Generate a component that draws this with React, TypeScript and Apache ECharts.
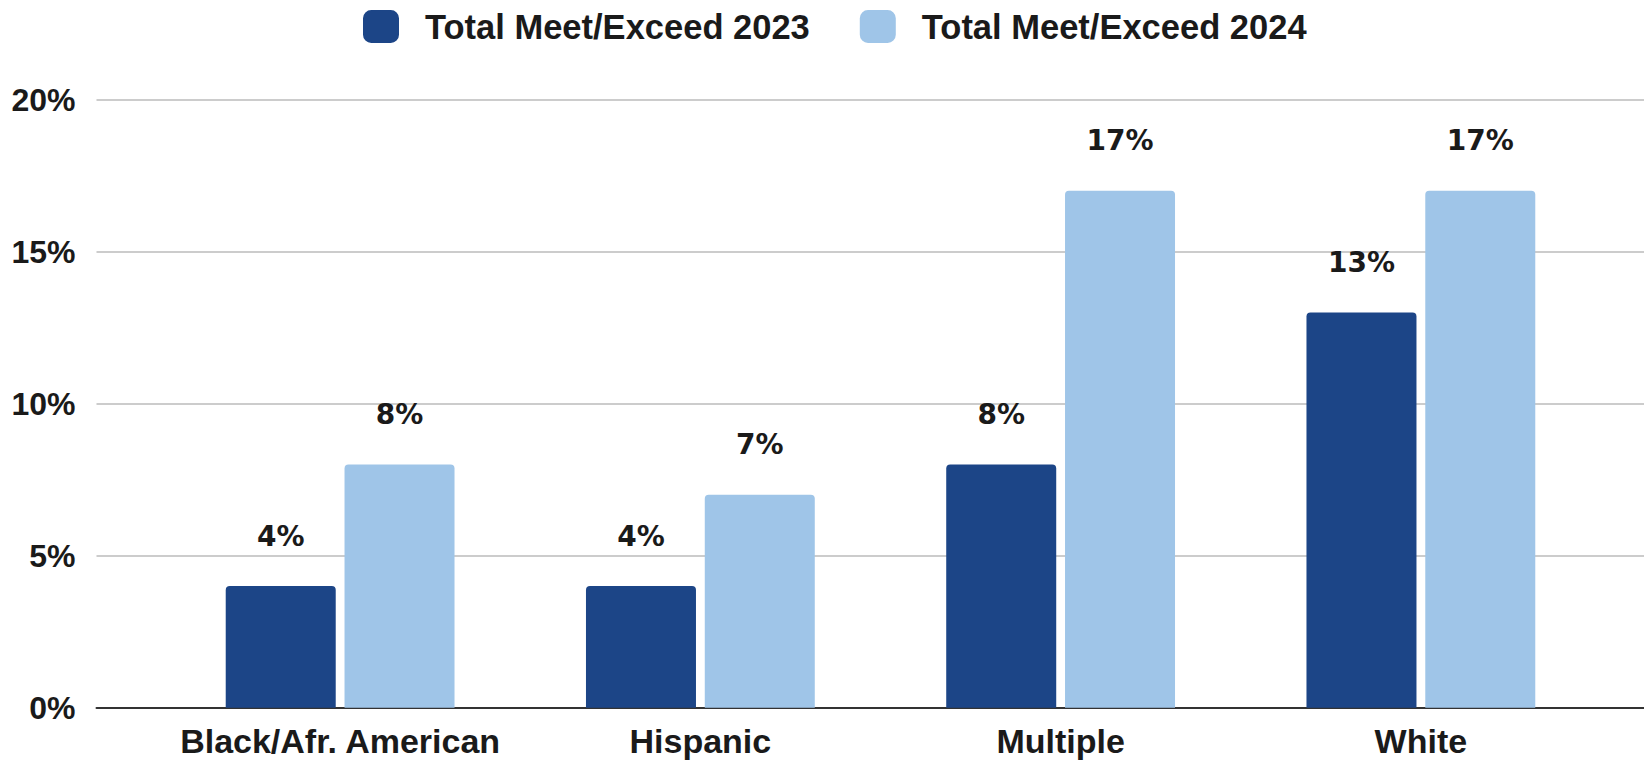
import React, { useEffect, useRef } from "react";
import * as echarts from "echarts";

const categories = ["Black/Afr. American", "Hispanic", "Multiple", "White"];
const seriesNames = ["Total Meet/Exceed 2023", "Total Meet/Exceed 2024"];
const values2023 = [4, 4, 8, 13];
const values2024 = [8, 7, 17, 17];
const yTicks = { min: 0, max: 20, interval: 5 };

const DARK = "#1c4587";
const LIGHT = "#9fc5e8";
const TEXT = "#1a1a1a";

export default function App() {
  const ref = useRef<HTMLDivElement>(null);
  useEffect(() => {
    if (!ref.current) return;
    const chart = echarts.init(ref.current, null, { renderer: "svg" });
    const top = 99.6;
    const bottom = 760 - 707.7;
    const dataLabel = {
      show: true,
      position: "top",
      distance: 36,
      formatter: "{c}%",
      fontFamily: "DejaVu Sans",
      fontWeight: "bold",
      fontSize: 28,
      color: TEXT,
    };
    chart.setOption({
      animation: false,
      backgroundColor: "#ffffff",
      legend: {
        left: 363,
        top: 9,
        padding: 0,
        itemWidth: 36,
        itemHeight: 33,
        itemGap: 50,
        icon: "roundRect",
        textStyle: {
          fontFamily: "Liberation Sans",
          fontWeight: "bold",
          fontSize: 34.5,
          color: TEXT,
          padding: [0, 0, 0, 21],
        },
        data: seriesNames,
      },
      grid: [
        { left: 96.5, right: 0, top, bottom, containLabel: false },
        { left: 160, right: 43, top, bottom, containLabel: false },
      ],
      xAxis: [
        {
          gridIndex: 0,
          type: "value",
          min: 0,
          max: 1,
          axisLine: { show: true, lineStyle: { color: "#333333", width: 2 } },
          axisTick: { show: false },
          axisLabel: { show: false },
          splitLine: { show: false },
        },
        {
          gridIndex: 1,
          type: "category",
          data: categories,
          axisLine: { show: false },
          axisTick: { show: false },
          axisLabel: {
            interval: 0,
            margin: 18.5,
            lineHeight: 30,
            fontFamily: "Liberation Sans",
            fontWeight: "bold",
            fontSize: 34,
            color: TEXT,
          },
        },
      ],
      yAxis: [
        {
          gridIndex: 0,
          type: "value",
          min: yTicks.min,
          max: yTicks.max,
          interval: yTicks.interval,
          axisLine: { show: false },
          axisTick: { show: false },
          axisLabel: {
            formatter: "{value}%",
            margin: 21,
            fontFamily: "Liberation Sans",
            fontWeight: "bold",
            fontSize: 32,
            color: TEXT,
          },
          splitLine: { show: true, lineStyle: { color: "#cccccc", width: 2 } },
        },
        {
          gridIndex: 1,
          type: "value",
          min: yTicks.min,
          max: yTicks.max,
          interval: yTicks.interval,
          show: false,
          splitLine: { show: false },
        },
      ],
      series: [
        {
          name: seriesNames[0],
          type: "bar",
          xAxisIndex: 1,
          yAxisIndex: 1,
          data: values2023,
          barWidth: 110,
          barGap: "8%",
          itemStyle: { color: DARK, borderRadius: [4, 4, 0, 0] },
          label: dataLabel,
        },
        {
          name: seriesNames[1],
          type: "bar",
          xAxisIndex: 1,
          yAxisIndex: 1,
          data: values2024,
          barWidth: 110,
          barGap: "8%",
          itemStyle: { color: LIGHT, borderRadius: [4, 4, 0, 0] },
          label: dataLabel,
        },
      ],
    });
    return () => chart.dispose();
  }, []);
  return (
    <div
      ref={ref}
      style={{ position: "fixed", left: 0, top: 0, width: 1644, height: 760 }}
    />
  );
}
